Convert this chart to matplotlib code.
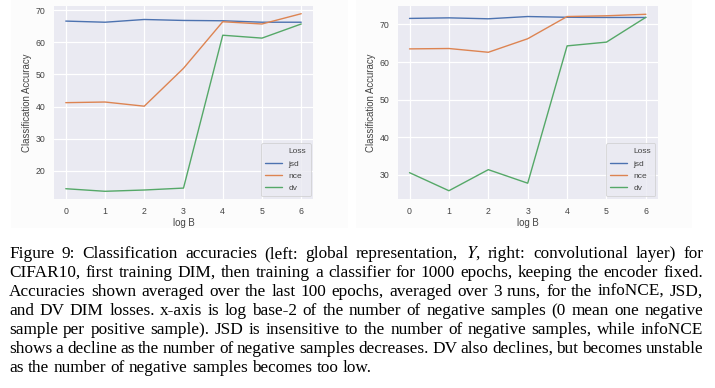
import matplotlib
matplotlib.use("Agg")
import matplotlib.pyplot as plt
import seaborn as sns
from matplotlib.patches import Rectangle

# ---------------- data ----------------
log_b = [0, 1, 2, 3, 4, 5, 6]
loss_names = ["jsd", "nce", "dv"]

left_jsd = [66.6, 66.25, 67.1, 66.8, 66.7, 66.25, 66.25]
left_nce = [41.2, 41.4, 40.1, 51.9, 66.4, 65.7, 68.9]
left_dv = [14.4, 13.6, 14.0, 14.6, 62.2, 61.3, 65.7]

right_jsd = [71.6, 71.75, 71.5, 72.1, 71.9, 71.85, 71.85]
right_nce = [63.5, 63.6, 62.6, 66.2, 72.1, 72.3, 72.7]
right_dv = [30.6, 25.8, 31.4, 27.8, 64.3, 65.3, 71.9]

left_yticks = [20, 30, 40, 50, 60, 70]
right_yticks = [30, 40, 50, 60, 70]

caption_lines = [
    "Figure 9: Classification accuracies (left: global representation, $Y$, right: convolutional layer) for",
    "CIFAR10, first training DIM, then training a classifier for 1000 epochs, keeping the encoder fixed.",
    "Accuracies shown averaged over the last 100 epochs, averaged over 3 runs, for the infoNCE, JSD,",
    "and DV DIM losses. x-axis is log base-2 of the number of negative samples (0 mean one negative",
    "sample per positive sample). JSD is insensitive to the number of negative samples, while infoNCE",
    "shows a decline as the number of negative samples decreases. DV also declines, but becomes unstable",
    "as the number of negative samples becomes too low.",
]

# ---------------- style ----------------
sns.set_theme(style="darkgrid")
plt.rcParams["font.family"] = ["Liberation Sans", "DejaVu Sans"]
plt.rcParams["mathtext.fontset"] = "stix"

W, H = 715, 388
fig = plt.figure(figsize=(W / 100, H / 100), dpi=100)
fig.patch.set_facecolor("white")

# light panel backgrounds of the embedded images
for x0, x1 in [(11, 348), (356, 692)]:
    fig.patches.append(Rectangle((x0 / W, 1 - 228 / H), (x1 - x0) / W, 228 / H,
                                 transform=fig.transFigure, facecolor="#fcfcfc",
                                 edgecolor="none", zorder=-5))

colors = ["#4C72B0", "#DD8452", "#55A868"]
text_col = "#444444"


def make_panel(rect, series, ylim, yticks):
    ax = fig.add_axes(rect)
    ax.set_zorder(2)
    ax.set_facecolor("#EAEAF2")
    for name, vals, c in zip(loss_names, series, colors):
        ax.plot(log_b, vals, color=c, lw=1.0, label=name)
    ax.set_xlim(-0.3, 6.3)
    ax.set_ylim(*ylim)
    ax.set_xticks(log_b)
    ax.set_yticks(yticks)
    ax.grid(True, color="white", lw=0.9)
    for s in ax.spines.values():
        s.set_visible(False)
    ax.tick_params(axis="both", length=0, labelsize=6.3, colors=text_col)
    ax.tick_params(axis="y", pad=6)
    ax.tick_params(axis="x", pad=5.5)
    ax.set_xlabel("log B", fontsize=6.9, color=text_col, labelpad=2)
    ax.set_ylabel("Classification Accuracy", fontsize=6.9, color=text_col, labelpad=2.5)
    h, l = ax.get_legend_handles_labels()
    blank = plt.Line2D([], [], color="none")
    leg = ax.legend([blank] + h, ["Loss"] + l, loc="lower right", fontsize=6.0,
                    frameon=True, facecolor="#EAEAF2", edgecolor="#cccccc",
                    handlelength=2.0, borderpad=0.5, labelspacing=0.55,
                    borderaxespad=0.3)
    leg.get_frame().set_linewidth(0.6)
    for t in leg.get_texts():
        t.set_color(text_col)
    return ax


make_panel([54 / W, 1 - 199 / H, 259 / W, 193 / H],
           [left_jsd, left_nce, left_dv], (11.2, 71.3), left_yticks)
make_panel([397.7 / W, 1 - 199 / H, 260 / W, 193 / H],
           [right_jsd, right_nce, right_dv], (23.6, 74.9), right_yticks)

# ---------------- caption (justified) ----------------
renderer = fig.canvas.get_renderer()
x_left, x_right = 9, 703
baseline0, line_step = 258, 19
cap_font = dict(family=["Liberation Serif", "DejaVu Serif"], size=12.4, color="black")

sb_t = fig.text(0, 0, "a b", **cap_font)
ab_t = fig.text(0, 0, "ab", **cap_font)
natural_space = sb_t.get_window_extent(renderer).width - ab_t.get_window_extent(renderer).width
sb_t.remove()
ab_t.remove()

for i, line in enumerate(caption_lines):
    words = line.split(" ")
    y = 1 - (baseline0 + i * line_step) / H
    texts = []
    widths = []
    for w in words:
        t = fig.text(0, y, w, va="baseline", ha="left", **cap_font)
        texts.append(t)
        widths.append(t.get_window_extent(renderer).width)
    total = sum(widths)
    if i < len(caption_lines) - 1 and len(words) > 1:
        gap = (x_right - x_left - total) / (len(words) - 1)
    else:
        gap = natural_space
    x = x_left
    for t, wdt in zip(texts, widths):
        t.set_x(x / W)
        x += wdt + gap

fig.savefig("out.png", dpi=100)
